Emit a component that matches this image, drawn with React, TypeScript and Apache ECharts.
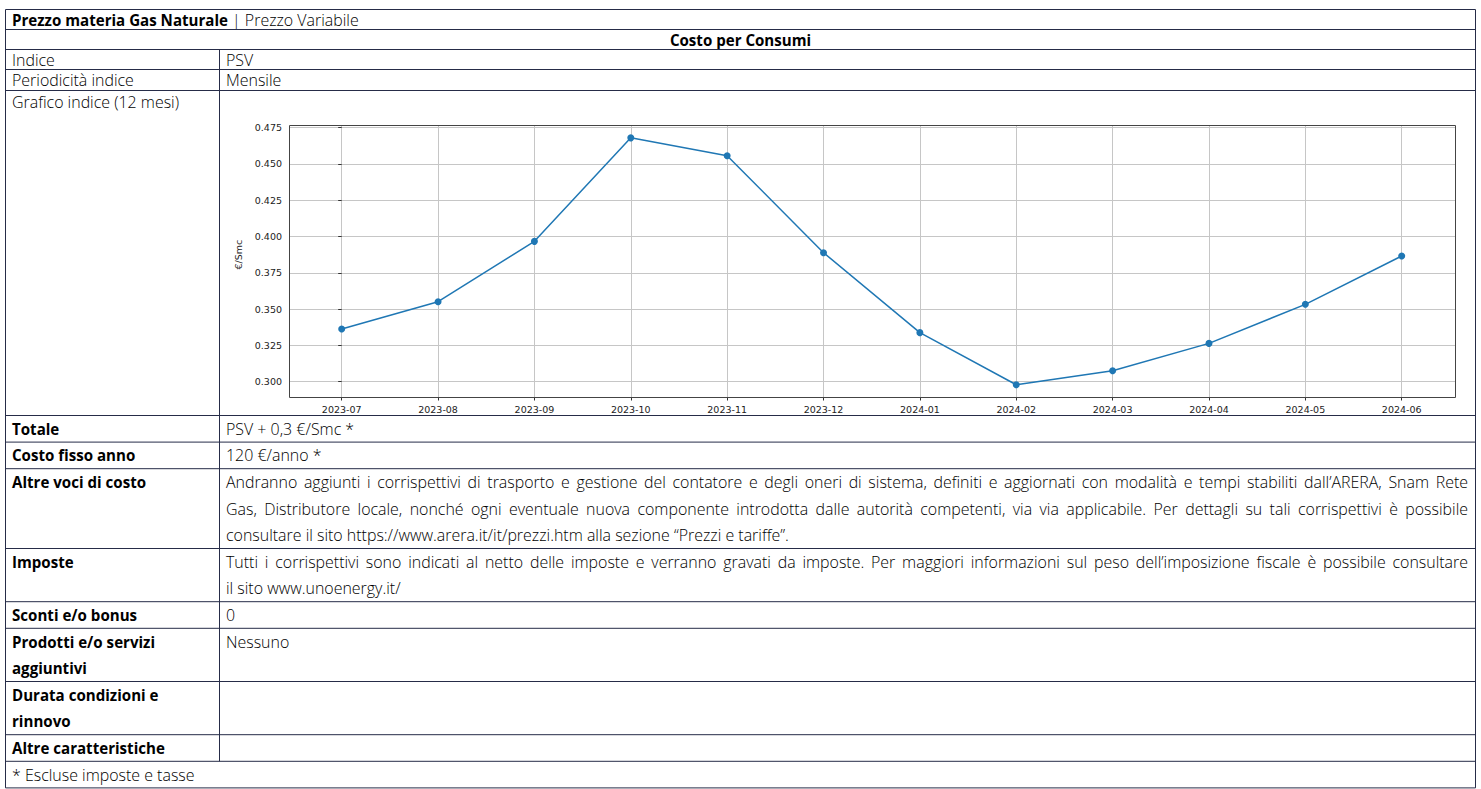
import { useEffect, useRef } from "react";
import * as echarts from "echarts";

// ---------- data ----------
const months = [
  "2023-07", "2023-08", "2023-09", "2023-10", "2023-11", "2023-12",
  "2024-01", "2024-02", "2024-03", "2024-04", "2024-05", "2024-06",
];
const psvValues = [
  0.3363, 0.3551, 0.3967, 0.468, 0.4557, 0.3889,
  0.3338, 0.2979, 0.3076, 0.3264, 0.3533, 0.3866,
];
const yTickMin = 0.3;
const yTickMax = 0.475;
const yTickStep = 0.025;
const yAxisTitle = "€/Smc";

const titleStrong = "Prezzo materia Gas Naturale";
const titleRest = " | Prezzo Variabile";
const sectionTitle = "Costo per Consumi";
const indexRows = [
  ["Indice", "PSV"],
  ["Periodicità indice", "Mensile"],
];
const chartRowLabel = "Grafico indice (12 mesi)";
const detailLabels = [
  ["Totale"],
  ["Costo fisso anno"],
  ["Altre voci di costo"],
  ["Imposte"],
  ["Sconti e/o bonus"],
  ["Prodotti e/o servizi", "aggiuntivi"],
  ["Durata condizioni e", "rinnovo"],
  ["Altre caratteristiche"],
];
const detailValues = [
  ["PSV + 0,3 €/Smc *"],
  ["120 €/anno *"],
  [
    "Andranno aggiunti i corrispettivi di trasporto e gestione del contatore e degli oneri di sistema, definiti e aggiornati con modalità e tempi stabiliti dall’ARERA, Snam Rete",
    "Gas, Distributore locale, nonché ogni eventuale nuova componente introdotta dalle autorità competenti, via via applicabile. Per dettagli su tali corrispettivi è possibile",
    "consultare il sito https://www.arera.it/it/prezzi.htm alla sezione “Prezzi e tariffe”.",
  ],
  [
    "Tutti i corrispettivi sono indicati al netto delle imposte e verranno gravati da imposte. Per maggiori informazioni sul peso dell’imposizione fiscale è possibile consultare",
    "il sito www.unoenergy.it/",
  ],
  ["0"],
  ["Nessuno"],
  [],
  [],
];
const footnote = "* Escluse imposte e tasse";

// ---------- layout ----------
const FONT = "'Open Sans'";
const BORDER = "#262c48";
const TL = 5.5;
const TR = 1475.5;
const TC = 219.5;
const topBorders = [9.5, 29.5, 49.5, 69.5, 90.5];
const chartRowBottom = 415.5;
const P = 26.6;
const LPAD = 12;
const VX0 = 226;
const VX1 = 1468;
// widths of two text runs in the reference, used to size the substitute font
const REG_FIT_WIDTH = 563;
const BOLD_FIT_WIDTH = 153;

const PLOT = { left: 289, right: 1455, top: 125, bottom: 397, yTopPx: 127.7, yBotPx: 381.7, firstX: 341.7, lastX: 1401.7 };
const AXIS_FONT = "DejaVu Sans";
const AXIS_FS = 9.5;
const AXIS_COLOR = "#222222";
const GRID_COLOR = "#c6c6c6";

function buildOption() {
  const ctx = document.createElement("canvas").getContext("2d")!;
  const measureAt = (t: string, w: number, s: number) => {
    ctx.font = `${w} ${s}px ${FONT}`;
    return ctx.measureText(t).width;
  };
  const regSize = (14 * REG_FIT_WIDTH) / measureAt(detailValues[2][2], 300, 14);
  const boldSize = (14 * BOLD_FIT_WIDTH) / measureAt(detailLabels[7][0], 700, 14);
  const sizeOf = (w: number) => (w >= 600 ? boldSize : regSize);
  const measure = (t: string, w: number) => measureAt(t, w, sizeOf(w));

  const g: any[] = [];
  const txt = (x: number, y: number, text: string, weight = 300, align = "left") =>
    g.push({
      type: "text", x, y, silent: true,
      style: { text, fontFamily: FONT, fontSize: sizeOf(weight), fontWeight: weight, fill: "#000", textAlign: align, textVerticalAlign: "middle" },
    });
  const line = (x1: number, y1: number, x2: number, y2: number) =>
    g.push({ type: "line", silent: true, shape: { x1, y1, x2, y2 }, style: { stroke: BORDER, lineWidth: 1 } });
  const justified = (text: string, y: number) => {
    const words = text.split(" ");
    const widths = words.map((w) => measure(w, 300));
    const sum = widths.reduce((a, b) => a + b, 0);
    const gap = (VX1 - VX0 - sum) / (words.length - 1);
    let x = VX0;
    words.forEach((w, i) => {
      txt(x, y, w);
      x += widths[i] + gap;
    });
  };

  // title rows
  const y0 = (topBorders[0] + topBorders[1]) / 2;
  txt(LPAD, y0, titleStrong, 700);
  txt(LPAD + measure(titleStrong, 700), y0, titleRest, 300);
  txt((TL + TR) / 2, (topBorders[1] + topBorders[2]) / 2, sectionTitle, 700, "center");
  indexRows.forEach((r, i) => {
    const y = (topBorders[2 + i] + topBorders[3 + i]) / 2;
    txt(LPAD, y, r[0]);
    txt(VX0, y, r[1]);
  });
  txt(LPAD, topBorders[4] + 11, chartRowLabel);
  topBorders.forEach((y) => line(TL, y, TR, y));
  line(TL, chartRowBottom, TR, chartRowBottom);

  // detail rows
  let top = chartRowBottom;
  detailLabels.forEach((lab, i) => {
    const vals = detailValues[i];
    const n = Math.max(lab.length, vals.length, 1);
    lab.forEach((t, j) => txt(LPAD, top + P * (j + 0.5), t, 700));
    vals.forEach((t, j) => {
      const y = top + P * (j + 0.5);
      if (vals.length > 1 && j < vals.length - 1) justified(t, y);
      else txt(VX0, y, t);
    });
    top += n * P;
    line(TL, top, TR, top);
  });
  const detailBottom = top;
  txt(LPAD, top + P / 2, footnote);
  const tableBottom = Math.min(top + P, 788.5);
  line(TL, tableBottom, TR, tableBottom);
  line(TL, topBorders[0], TL, tableBottom);
  line(TR, topBorders[0], TR, tableBottom);
  line(TC, topBorders[2], TC, detailBottom);

  // plot frame
  g.push({
    type: "rect", silent: true, z: 100,
    shape: { x: PLOT.left + 0.5, y: PLOT.top + 0.5, width: PLOT.right - PLOT.left, height: PLOT.bottom - PLOT.top },
    style: { fill: "none", stroke: "#444444", lineWidth: 1 },
  });

  const n = months.length;
  const step = (PLOT.lastX - PLOT.firstX) / (n - 1);
  const padL = (PLOT.firstX - PLOT.left) / step;
  const padR = (PLOT.right - PLOT.lastX) / step;

  const axisLabel = { fontFamily: AXIS_FONT, fontSize: AXIS_FS, color: AXIS_COLOR };

  return {
    animation: false,
    backgroundColor: "#ffffff",
    grid: [
      { left: PLOT.left, top: PLOT.yTopPx, width: PLOT.right - PLOT.left, height: PLOT.yBotPx - PLOT.yTopPx, containLabel: false },
      { left: PLOT.firstX, top: PLOT.top, width: PLOT.lastX - PLOT.firstX, height: PLOT.bottom - PLOT.top, containLabel: false },
    ],
    xAxis: [
      { gridIndex: 0, type: "value", min: -padL, max: n - 1 + padR, show: false },
      {
        gridIndex: 1, type: "value", min: 0, max: n - 1, interval: 1,
        axisLine: { show: false },
        axisTick: { show: true, length: 3.5, lineStyle: { color: "#333", width: 1 } },
        axisLabel: { ...axisLabel, margin: 7, formatter: (v: number) => months[Math.round(v)] ?? "" },
        splitLine: { show: true, lineStyle: { color: GRID_COLOR, width: 1 } },
      },
    ],
    yAxis: [
      {
        gridIndex: 0, type: "value", min: yTickMin, max: yTickMax, interval: yTickStep,
        name: yAxisTitle, nameLocation: "middle", nameGap: 32, nameRotate: 90,
        nameTextStyle: { fontFamily: AXIS_FONT, fontSize: AXIS_FS, color: AXIS_COLOR },
        axisLine: { show: false },
        axisTick: { show: true, length: 3.5, lineStyle: { color: "#333", width: 1 } },
        axisLabel: { ...axisLabel, margin: 7, formatter: (v: number) => v.toFixed(3) },
        splitLine: { show: true, lineStyle: { color: GRID_COLOR, width: 1 } },
      },
      { gridIndex: 1, type: "value", min: 0, max: 1, show: false },
    ],
    series: [
      {
        type: "line", xAxisIndex: 0, yAxisIndex: 0, clip: false,
        data: months.map((_, i) => [i, psvValues[i]]),
        symbol: "circle", symbolSize: 7,
        lineStyle: { color: "#1f77b4", width: 1.5 },
        itemStyle: { color: "#1f77b4" },
        z: 5,
      },
    ],
    graphic: { elements: g },
  };
}

export default function App() {
  const ref = useRef<HTMLDivElement>(null);
  useEffect(() => {
    document.body.style.margin = "0";
    const chart = echarts.init(ref.current!, null, { renderer: "svg" });
    chart.setOption(buildOption() as any);
    return () => chart.dispose();
  }, []);
  return <div ref={ref} style={{ width: 1481, height: 789 }} />;
}
